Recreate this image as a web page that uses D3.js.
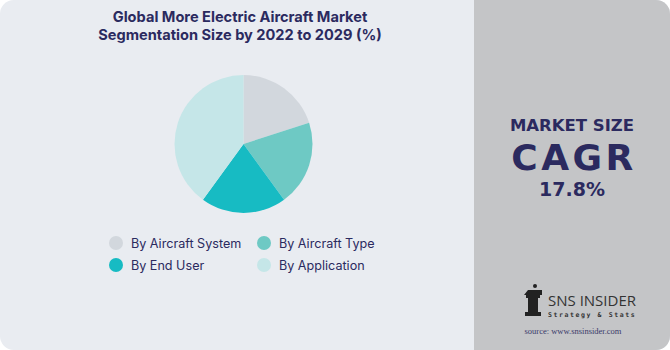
<!DOCTYPE html>
<html>
<head>
<meta charset="utf-8">
<script src="https://cdn.jsdelivr.net/npm/d3@7"></script>
<style>
  body { margin: 0; background: #ffffff; }
  svg { display: block; }
</style>
</head>
<body>
<svg width="670" height="350"></svg>
<script>
// segment shares
const segments = ["By Aircraft System", "By Aircraft Type", "By End User", "By Application"];
const shares = [20, 20, 20, 40];
const colors = ["#d2d7dd", "#6ec9c4", "#17bbc3", "#c5e6e8"];
const titleLines = ["Global More Electric Aircraft Market", "Segmentation Size by 2022 to 2029 (%)"];
const cagr = "17.8%";

const svg = d3.select("svg");
const navy = "#2b2a5f";
const font = "Inter, 'Open Sans', sans-serif";

// backgrounds
svg.append("rect")
  .attr("x", 0).attr("y", 0).attr("width", 670).attr("height", 350)
  .attr("rx", 14)
  .attr("fill", "#e9ecf1");

const clip = svg.append("clipPath").attr("id", "panelClip");
clip.append("rect")
  .attr("x", 0).attr("y", 0).attr("width", 670).attr("height", 350).attr("rx", 14);

svg.append("rect")
  .attr("x", 474).attr("y", 0).attr("width", 196).attr("height", 350)
  .attr("clip-path", "url(#panelClip)")
  .attr("fill", "#c4c5c7");

// title
svg.append("g")
  .selectAll("text")
  .data(titleLines)
  .join("text")
  .attr("x", 240)
  .attr("y", (d, i) => 22 + i * 18)
  .attr("text-anchor", "middle")
  .attr("font-family", font)
  .attr("font-weight", 700)
  .attr("font-size", 14.6)
  .attr("fill", navy)
  .text(d => d);

// pie
const pie = d3.pie().sort(null).value(d => d);
const arc = d3.arc().innerRadius(0).outerRadius(69);

svg.append("g")
  .attr("transform", "translate(243.5,144)")
  .selectAll("path")
  .data(pie(shares))
  .join("path")
  .attr("d", arc)
  .attr("fill", (d, i) => colors[i]);

// legend
const legend = svg.append("g")
  .selectAll("g")
  .data(segments)
  .join("g")
  .attr("transform", (d, i) => `translate(${i % 2 ? 264 : 116},${i < 2 ? 243 : 265})`);

legend.append("circle")
  .attr("r", 7)
  .attr("fill", (d, i) => colors[i]);

legend.append("text")
  .attr("x", 15)
  .attr("y", 4.5)
  .attr("font-family", font)
  .attr("font-size", 12.6)
  .attr("fill", navy)
  .text(d => d);

// right panel
const panel = svg.append("g").attr("font-family", "'DejaVu Sans', sans-serif")
  .attr("font-weight", 700).attr("fill", navy).attr("text-anchor", "middle");

panel.append("text").attr("x", 572).attr("y", 130.5).attr("font-size", 16.5).text("MARKET SIZE");
panel.append("text").attr("x", 574).attr("y", 169.5).attr("font-size", 36)
  .attr("letter-spacing", 3.5).text("CAGR");
panel.append("text").attr("x", 572).attr("y", 196).attr("font-size", 19).text(cagr);

// logo
const logo = svg.append("g");
logo.append("circle").attr("cx", 535).attr("cy", 286).attr("r", 2).attr("fill", "#222");
logo.append("path")
  .attr("d", "M528,290 h14 v5 h-2 v3 h-2 v14 h3 v4 h-16 v-4 h3 v-14 h-2 v-3 h-2 z")
  .attr("fill", "#222");
logo.append("text")
  .attr("x", 548).attr("y", 306)
  .attr("font-family", "'Open Sans', sans-serif")
  .attr("font-size", 15)
  .attr("fill", "#333")
  .text("SNS INSIDER");
logo.append("text")
  .attr("x", 548).attr("y", 317)
  .attr("font-family", "'DejaVu Sans Mono', monospace")
  .attr("font-size", 6.5)
  .attr("font-weight", 700)
  .attr("letter-spacing", 1.6)
  .attr("fill", "#333")
  .text("Strategy & Stats");
logo.append("text")
  .attr("x", 573).attr("y", 334)
  .attr("text-anchor", "middle")
  .attr("font-family", "'Liberation Serif', serif")
  .attr("font-size", 8.5)
  .attr("fill", "#3a3a6a")
  .text("source: www.snsinsider.com");
</script>
</body>
</html>
